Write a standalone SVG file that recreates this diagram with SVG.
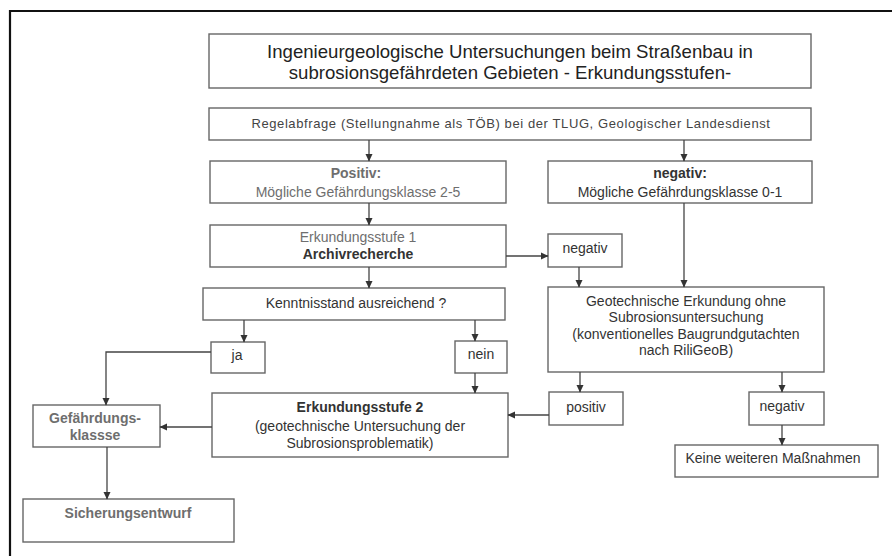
<svg xmlns="http://www.w3.org/2000/svg" width="892" height="556" viewBox="0 0 892 556">
<defs>
<marker id="ah" markerWidth="8" markerHeight="8" refX="7" refY="4" orient="auto" markerUnits="userSpaceOnUse">
<path d="M0,0.5 L7.5,4 L0,7.5 Z" fill="#333"/>
</marker>
</defs>
<style>
.box{fill:#fff;stroke:#666;stroke-width:1.4}
.t{font-family:"Liberation Sans",Arial,sans-serif;font-size:14px;fill:#333;text-anchor:middle}
.g{fill:#6e6e6e}
.b{font-weight:bold}
.title{font-size:18.6px;fill:#222}
.small{font-size:13px;letter-spacing:0.6px;fill:#444}
.c{fill:none;stroke:#444;stroke-width:1.3;marker-end:url(#ah)}
.cn{fill:none;stroke:#444;stroke-width:1.3}
</style>
<rect x="0" y="0" width="892" height="556" fill="#fff"/>
<path d="M10,560 V11 H896" fill="none" stroke="#111" stroke-width="2.2"/>

<g id="title">
<rect class="box" x="209" y="34" width="602" height="54"/>
<text class="t title" x="510" y="58">Ingenieurgeologische Untersuchungen beim Straßenbau in</text>
<text class="t title" x="510" y="79">subrosionsgefährdeten Gebieten - Erkundungsstufen-</text>
</g>
<g id="regelabfrage">
<rect class="box" x="209" y="108" width="602" height="32"/>
<text class="t small" x="511" y="127.5">Regelabfrage (Stellungnahme als TÖB) bei der TLUG, Geologischer Landesdienst</text>
</g>
<g id="positiv-klasse">
<rect class="box" x="210" y="161" width="296" height="42"/>
<text class="t g b" x="356" y="178">Positiv:</text>
<text class="t g" x="358" y="197">Mögliche Gefährdungsklasse 2-5</text>
</g>
<g id="negativ-klasse">
<rect class="box" x="548" y="161" width="264" height="42"/>
<text class="t b" x="680" y="178">negativ:</text>
<text class="t" x="680" y="197">Mögliche Gefährdungsklasse 0-1</text>
</g>
<g id="erkundungsstufe1">
<rect class="box" x="210" y="225" width="296" height="42"/>
<text class="t g" x="358" y="242">Erkundungsstufe 1</text>
<text class="t b" x="358" y="259">Archivrecherche</text>
</g>
<g id="negativ1">
<rect class="box" x="548" y="234" width="74" height="33"/>
<text class="t" x="585" y="253">negativ</text>
</g>
<g id="kenntnisstand">
<rect class="box" x="203" y="288" width="302" height="32"/>
<text class="t" x="356" y="308">Kenntnisstand ausreichend ?</text>
</g>
<g id="geotechnisch">
<rect class="box" x="548" y="287" width="276" height="85"/>
<text class="t" x="686" y="306">Geotechnische Erkundung ohne</text>
<text class="t" x="686" y="322">Subrosionsuntersuchung</text>
<text class="t" x="686" y="339">(konventionelles Baugrundgutachten</text>
<text class="t" x="686" y="355">nach RiliGeoB)</text>
</g>
<g id="ja">
<rect class="box" x="211" y="342" width="54" height="31"/>
<text class="t" x="237" y="360">ja</text>
</g>
<g id="nein">
<rect class="box" x="455" y="341" width="52" height="32"/>
<text class="t" x="481" y="359">nein</text>
</g>
<g id="erkundungsstufe2">
<rect class="box" x="212" y="393" width="296" height="64"/>
<text class="t b" x="360" y="412">Erkundungsstufe 2</text>
<text class="t" x="360" y="431">(geotechnische Untersuchung der</text>
<text class="t" x="360" y="448">Subrosionsproblematik)</text>
</g>
<g id="positiv2">
<rect class="box" x="549" y="392" width="74" height="33"/>
<text class="t" x="586" y="412">positiv</text>
</g>
<g id="negativ2">
<rect class="box" x="749" y="392" width="75" height="33"/>
<text class="t" x="782" y="411">negativ</text>
</g>
<g id="keine">
<rect class="box" x="675" y="445" width="203" height="32"/>
<text class="t" x="773" y="463">Keine weiteren Maßnahmen</text>
</g>
<g id="gefaehrdungsklasse">
<rect class="box" x="33" y="405" width="127" height="42"/>
<text class="t g b" x="95" y="423">Gefährdungs-</text>
<text class="t g b" x="95" y="440">klassse</text>
</g>
<g id="sicherungsentwurf">
<rect class="box" x="23" y="499" width="211" height="43"/>
<text class="t g b" x="128" y="518">Sicherungsentwurf</text>
</g>

<g id="connectors">
<path class="c" d="M369,140 V161"/>
<path class="c" d="M684,140 V161"/>
<path class="c" d="M369,203 V225"/>
<path class="c" d="M506,256 H548"/>
<path class="c" d="M369,267 V288"/>
<path class="c" d="M684,203 V287"/>
<path class="c" d="M579,267 V287"/>
<path class="c" d="M244,320 V342"/>
<path class="c" d="M475,320 V341"/>
<path class="c" d="M211,352 H106 V405"/>
<path class="c" d="M475,373 V393"/>
<path class="c" d="M580,372 V392"/>
<path class="c" d="M782,372 V392"/>
<path class="c" d="M549,415 H508"/>
<path class="c" d="M212,427 H160"/>
<path class="c" d="M107,447 V499"/>
<path class="c" d="M782,425 V445"/>
</g>
</svg>
